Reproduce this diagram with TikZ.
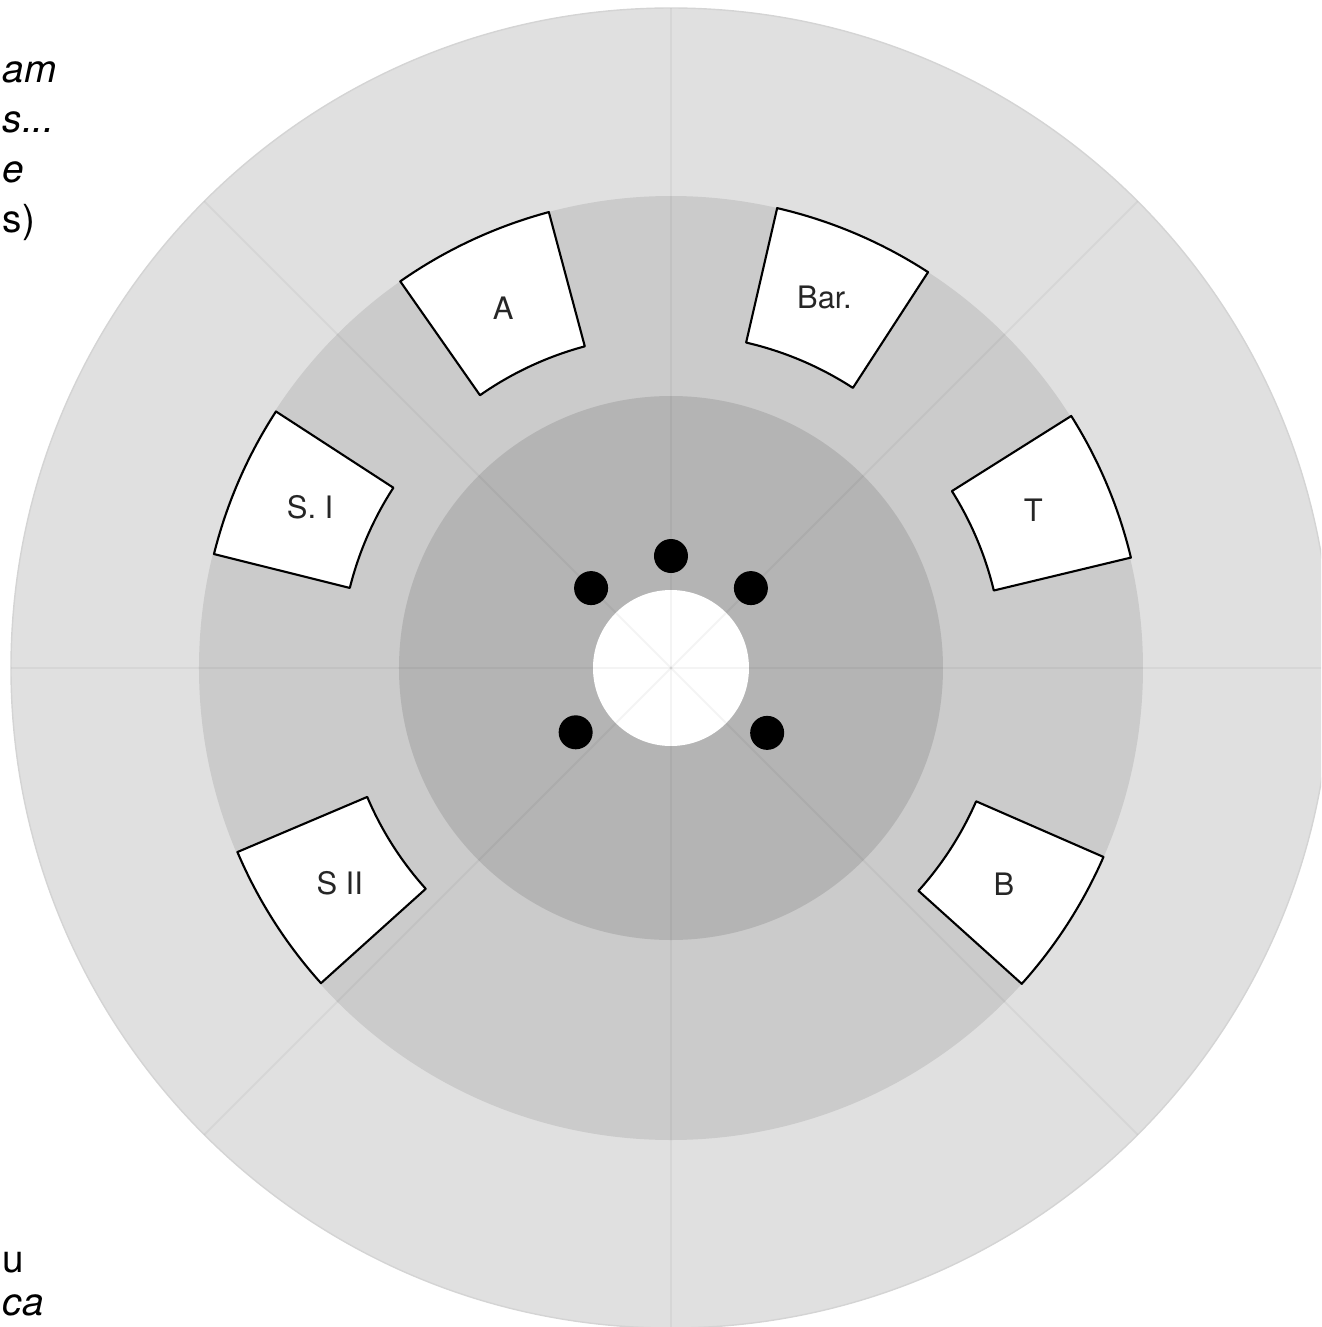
\documentclass[tikz,border=0pt]{standalone}
\usepackage{fontspec}
\setmainfont{TeX Gyre Heros}
\usepackage{tikz}
\usetikzlibrary{
	shapes.geometric,
	positioning,
	calc
}
\definecolor{ringouter}{gray}{0.878}
\definecolor{ringmid}{gray}{0.796}
\definecolor{ringinner}{gray}{0.706}

\begin{document}
\begin{tikzpicture}[
	seg/.style={
		draw, fill=white, line width=0.6pt, line join=round
	},
	lbl/.style={
		inner sep=0pt, font=\fontsize{8.8}{10}\selectfont, text=black!85
	},
	side/.style={
		inner sep=0pt, anchor=base west, font=\fontsize{11}{13}\selectfont
	},
	dot/.style={
		circle, fill=black, minimum size=0.34cm, inner sep=0pt
	},
	spoke/.style={
		black, opacity=0.045, line width=0.6pt
	},
	]
	\useasboundingbox (-6.71,-6.59) rectangle (6.50,6.68);
	\clip (-6.71,-6.59) rectangle (6.50,6.68);

	%rings
	\filldraw[fill=ringouter, draw=black!17, line width=0.4pt] (0,0) circle (6.60);
	\fill[ringmid] (0,0) circle (4.72);
	\fill[ringinner] (0,0) circle (2.72);
	\fill[white] (0,0) circle (0.78);

	%spokes
	\draw[spoke] (0:6.60) -- (0,0);
	\draw[spoke] (45:6.60) -- (0,0);
	\draw[spoke] (90:6.60) -- (0,0);
	\draw[spoke] (135:6.60) -- (0,0);
	\draw[spoke] (180:6.60) -- (0,0);
	\draw[spoke] (225:6.60) -- (0,0);
	\draw[spoke] (270:6.60) -- (0,0);
	\draw[spoke] (315:6.60) -- (0,0);

	%dots round the centre
	\node[dot] (dtop) at (90:1.12) {};
	\node[dot] (dleft) at (135:1.13) {};
	\node[dot] (dright) at (45:1.13) {};
	\node[dot] (dlowleft) at (214:1.15) {};
	\node[dot] (dlowright) at (326:1.16) {};

	%upper sets
	\draw[seg] (105:3.33) arc[start angle=105, end angle=125, radius=3.33]
		-- (125:4.72) arc[start angle=125, end angle=105, radius=4.72] -- cycle;
	\node[lbl] (a) at (115:3.97) {A};

	\draw[seg] (57:3.34) arc[start angle=57, end angle=77, radius=3.34]
		-- (77:4.72) arc[start angle=77, end angle=57, radius=4.72] -- cycle;
	\node[lbl] (bar) at (67.5:4.01) {Bar.};

	%side sets
	\draw[seg] (147:3.31) arc[start angle=147, end angle=166, radius=3.31]
		-- (166:4.71) arc[start angle=166, end angle=147, radius=4.71] -- cycle;
	\node[lbl] (s1) at (156:3.95) {S. I};

	\draw[seg] (13.5:3.32) arc[start angle=13.5, end angle=32.2, radius=3.32]
		-- (32.2:4.73) arc[start angle=32.2, end angle=13.5, radius=4.73] -- cycle;
	\node[lbl] (t) at (23.5:3.95) {T};

	%lower sets
	\draw[seg] (203:3.30) arc[start angle=203, end angle=222, radius=3.30]
		-- (222:4.71) arc[start angle=222, end angle=203, radius=4.71] -- cycle;
	\node[lbl] (s2) at (213:3.95) {S II};

	\draw[seg] (-42:3.33) arc[start angle=-42, end angle=-23.6, radius=3.33]
		-- (-23.6:4.72) arc[start angle=-23.6, end angle=-42, radius=4.72] -- cycle;
	\node[lbl] (b) at (-33:3.97) {B};

	%text at the left edge
	\node[side] (t1) at (-6.69,5.86) {\itshape am};
	\node[side] (t2) at (-6.69,5.35) {\itshape s...};
	\node[side] (t3) at (-6.69,4.86) {\itshape e};
	\node[side] (t4) at (-6.69,4.36) {s)};
	\node[side] (t5) at (-6.69,-6.04) {u};
	\node[side] (t6) at (-6.69,-6.47) {\itshape ca};
\end{tikzpicture}
\end{document}
